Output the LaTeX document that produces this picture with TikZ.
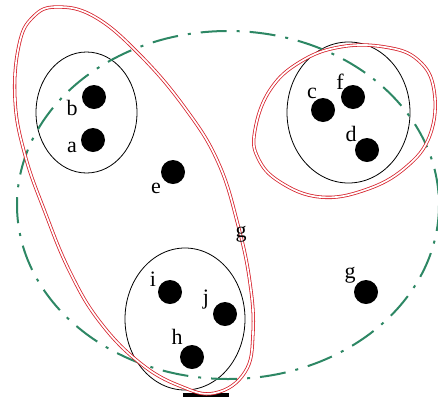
\documentclass[tikz,border=0pt]{standalone}
\usepackage{fontspec}
\setmainfont{Liberation Serif}
\usetikzlibrary{positioning}

\definecolor{setgreen}{RGB}{45,135,100}
\definecolor{setred}{RGB}{215,35,45}

\begin{document}
\begin{tikzpicture}[
  x=1pt, y=-1pt,
  dot/.style={circle, fill=black, inner sep=0pt, minimum size=24pt},
  lbl/.style={inner sep=0pt, font=\fontsize{22}{22}\selectfont},
  clu/.style={draw=black, line width=0.8pt},
  whole/.style={draw=setgreen, line width=2pt, dash pattern=on 26pt off 10pt on 3pt off 10pt},
  pair/.style={draw=setred, double=white, double distance=1.7pt, line width=0.8pt}
]
\useasboundingbox (0,0) rectangle (438,397);

% clusters
\draw[clu] (86.5,112.5) ellipse [x radius=50.5, y radius=60.5];
\draw[clu] (348.5,112.5) ellipse [x radius=61.5, y radius=70.5];
\draw[clu] (185,319) ellipse [x radius=60, y radius=71];
\draw[line width=3.5pt] (183,395) -- (229,395);

% big set
\draw[whole] (228,205) ellipse [x radius=211, y radius=174];

% merged sets
\draw[pair] plot[smooth cycle, tension=0.7] coordinates {
  (57,7) (95,17) (140,55) (185,108) (218,162)
  (238,225) (250,283) (253,333) (245,372) (215,393)
  (180,386) (140,363) (100,322) (70,272) (45,212) (25,155)
  (15,100) (19,45) (33,17)};
\draw[pair] plot[smooth cycle, tension=0.7] coordinates {
  (255,130) (270,90) (300,62) (340,47) (385,47) (418,60)
  (434,90) (430,135) (405,168) (365,190) (320,197) (280,182) (258,158)};

% points
\node[dot] (a) at (93,140) {};
\node[dot] (b) at (94,97) {};
\node[dot] (c) at (323,110) {};
\node[dot] (d) at (367,150) {};
\node[dot] (e) at (173,172) {};
\node[dot] (f) at (353,97) {};
\node[dot] (g) at (366,292) {};
\node[dot] (h) at (192,357) {};
\node[dot] (i) at (170,292) {};
\node[dot] (j) at (225,314) {};

\node[lbl] (la) at (72,147) {a};
\node[lbl] (lb) at (72,108) {b};
\node[lbl] (lc) at (312,93) {c};
\node[lbl] (ld) at (351,134) {d};
\node[lbl] (le) at (156,188) {e};
\node[lbl] (lf) at (340,82) {f};
\node[lbl] (lg) at (350,275) {g};
\node[lbl] (lh) at (177,337) {h};
\node[lbl] (li) at (153,279) {i};
\node[lbl] (lj) at (206,300) {j};
\node[lbl] (lx) at (241,234) {g};
\end{tikzpicture}
\end{document}
